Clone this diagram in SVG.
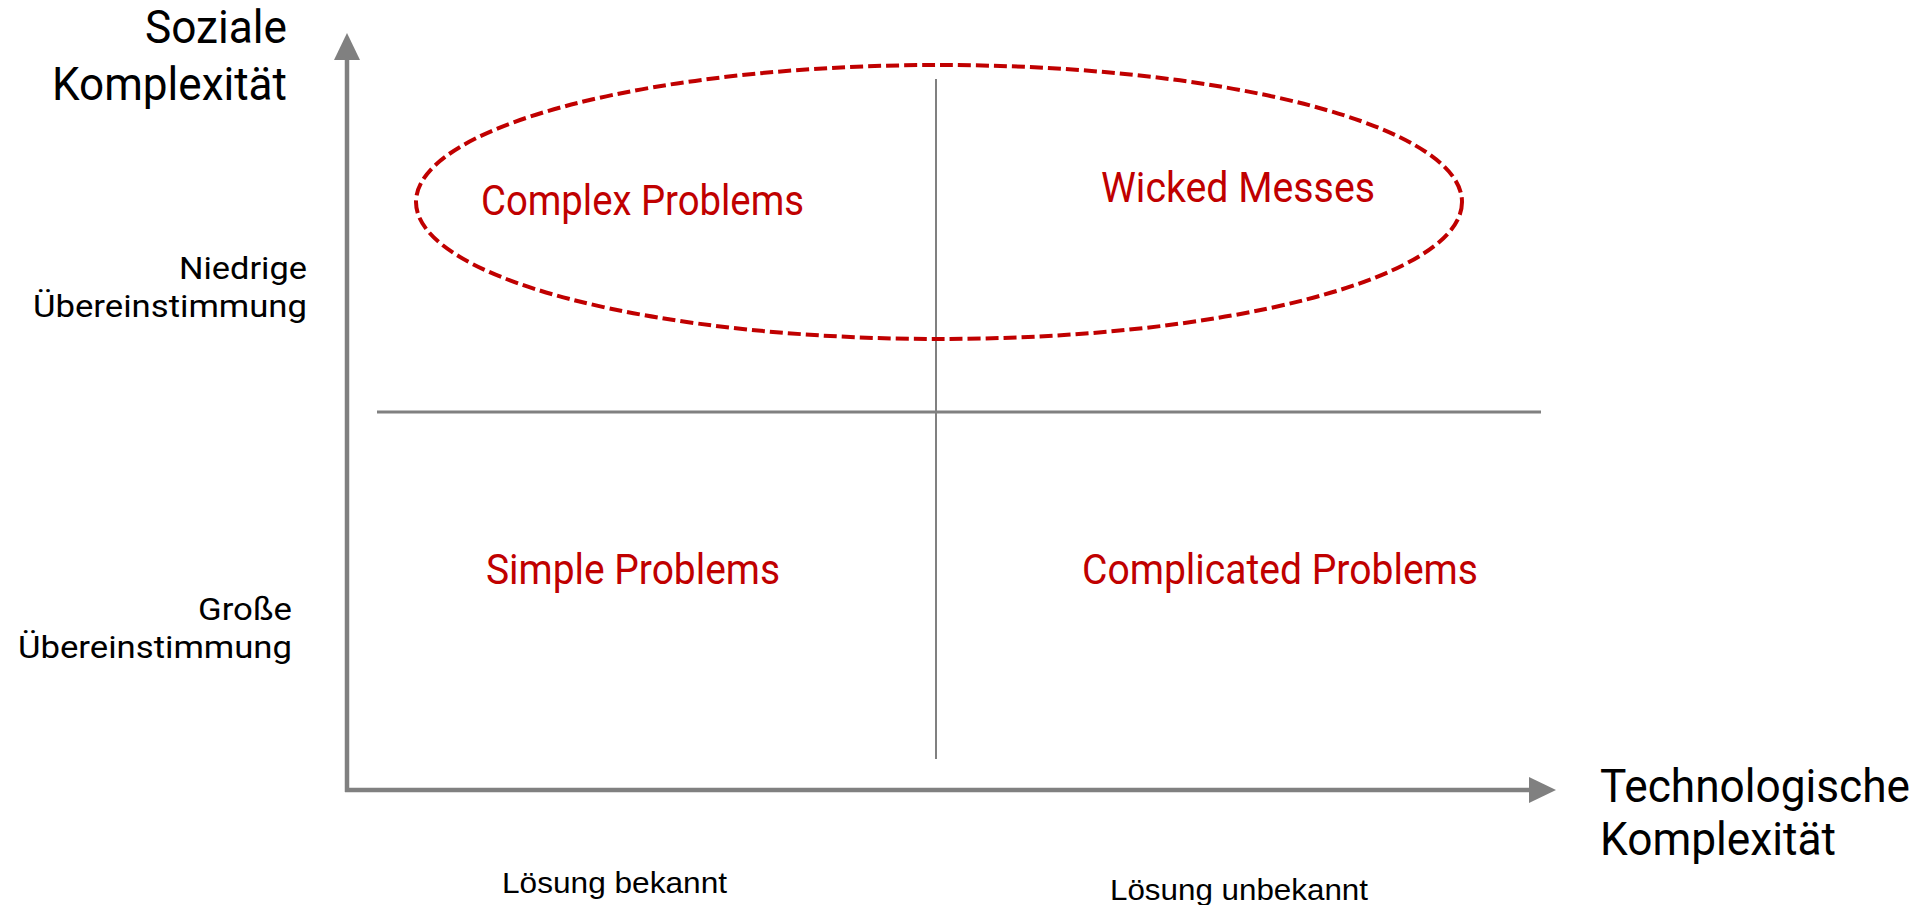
<svg xmlns="http://www.w3.org/2000/svg" width="1926" height="905" viewBox="0 0 1926 905">
<style>
.ax{stroke:#808080;stroke-width:4.5;fill:none}
.div{stroke:#808080;fill:none}
.head{fill:#808080}
.big{font-family:Roboto,"Liberation Sans",sans-serif;font-size:47px;fill:#000}
.mid{font-family:Roboto,"Liberation Sans",sans-serif;font-size:31px;fill:#000}
.red{font-family:Roboto,"Liberation Sans",sans-serif;font-size:42px;fill:#C00000}
.sm{font-family:"Liberation Sans",Roboto,sans-serif;font-size:29px;fill:#000}
</style>
<rect width="1926" height="905" fill="#fff"/>
<g id="connectors">
<line class="div" x1="936" y1="79" x2="936" y2="759" stroke-width="2"/>
<line class="div" x1="377" y1="412" x2="1541" y2="412" stroke-width="3"/>
<line class="ax" x1="347" y1="792" x2="347" y2="58"/>
<polygon class="head" points="347,33 334,60 360,60"/>
<line class="ax" x1="345" y1="790" x2="1531" y2="790"/>
<polygon class="head" points="1556,790 1529,777 1529,803"/>
</g>
<g id="ellipse">
<ellipse cx="939" cy="202" rx="523" ry="137" fill="none" stroke="#C00000" stroke-width="4" stroke-dasharray="13 5"/>
</g>
<g id="y-axis-label">
<text class="big" x="145" y="43" textLength="142" lengthAdjust="spacingAndGlyphs">Soziale</text>
<text class="big" x="52" y="100" textLength="235" lengthAdjust="spacingAndGlyphs">Komplexität</text>
</g>
<g id="x-axis-label">
<text class="big" x="1600" y="802" font-size="47" textLength="310" lengthAdjust="spacingAndGlyphs">Technologische</text>
<text class="big" x="1600" y="855" font-size="47" textLength="236" lengthAdjust="spacingAndGlyphs">Komplexität</text>
</g>
<g id="low-agreement">
<text class="mid" x="179" y="279" textLength="128" lengthAdjust="spacingAndGlyphs">Niedrige</text>
<text class="mid" x="33" y="317" textLength="274" lengthAdjust="spacingAndGlyphs">Übereinstimmung</text>
</g>
<g id="high-agreement">
<text class="mid" x="198" y="620" textLength="94" lengthAdjust="spacingAndGlyphs">Große</text>
<text class="mid" x="18" y="658" textLength="274" lengthAdjust="spacingAndGlyphs">Übereinstimmung</text>
</g>
<g id="complex">
<text class="red" x="481" y="215" textLength="323" lengthAdjust="spacingAndGlyphs">Complex Problems</text>
</g>
<g id="wicked">
<text class="red" x="1101" y="202" textLength="274" lengthAdjust="spacingAndGlyphs">Wicked Messes</text>
</g>
<g id="simple">
<text class="red" x="486" y="584" textLength="294" lengthAdjust="spacingAndGlyphs">Simple Problems</text>
</g>
<g id="complicated">
<text class="red" x="1082" y="584" textLength="396" lengthAdjust="spacingAndGlyphs">Complicated Problems</text>
</g>
<g id="known">
<text class="sm" x="502" y="893" textLength="225" lengthAdjust="spacingAndGlyphs">Lösung bekannt</text>
</g>
<g id="unknown">
<text class="sm" x="1110" y="900" textLength="258" lengthAdjust="spacingAndGlyphs">Lösung unbekannt</text>
</g>
</svg>
